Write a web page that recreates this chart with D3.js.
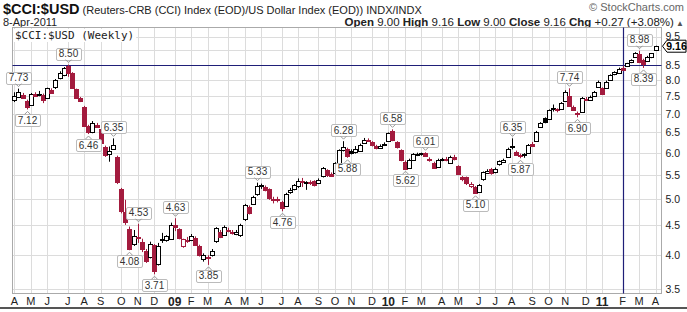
<!DOCTYPE html>
<html>
<head>
<meta charset="utf-8">
<script src="https://cdn.jsdelivr.net/npm/d3@7"></script>
<style>
  body { margin: 0; background: #fff; }
  svg { display: block; font-family: "Liberation Sans", Arial, sans-serif; }
</style>
</head>
<body>
<svg id="chart" width="687" height="312"></svg>
<script>
// weekly bars, each dated by the Monday of its week
var firstWeek = new Date(2008, 3, 7)

var opens = [
  7.38,7.48,7.55,7.37,7.25,7.58,7.54,7.55,7.45,7.70,
  7.79,8.08,8.16,8.45,8.23,7.71,7.45,7.20,6.66,6.50,
  6.70,6.58,6.13,5.97,6.10,5.90,5.20,4.74,4.44,4.18,
  4.30,4.21,4.07,3.97,4.16,3.86,4.24,4.25,4.27,4.50,
  4.43,4.14,4.24,4.25,4.28,4.15,3.93,3.97,4.00,4.22,
  4.39,4.34,4.42,4.38,4.35,4.33,4.61,4.85,4.90,5.08,
  5.28,5.24,5.19,4.98,4.99,4.94,4.86,5.14,5.19,5.25,
  5.36,5.32,5.34,5.36,5.33,5.46,5.60,5.52,5.52,5.75,
  6.06,6.10,6.04,6.02,6.04,6.24,6.30,6.26,6.16,6.13,
  6.20,6.28,6.53,6.25,6.06,5.79,5.64,5.84,5.97,5.99,
  6.00,5.86,5.77,5.68,5.84,5.85,5.77,5.90,5.69,5.44,
  5.44,5.25,5.24,5.14,5.39,5.55,5.62,5.55,5.73,5.80,
  5.91,6.14,6.02,5.95,5.93,5.99,6.22,6.28,6.64,6.88,
  6.85,7.12,7.12,7.15,7.37,7.52,7.20,7.01,7.05,7.42,
  7.40,7.51,7.79,7.74,7.77,8.00,8.18,8.24,8.40,8.45,
  8.58,8.77,8.87,8.66,8.64,8.75,9.00
]
var highs = [
  7.62,7.73,7.60,7.40,7.60,7.62,7.66,7.58,7.76,7.74,
  8.03,8.28,8.42,8.50,8.25,7.73,7.48,7.22,6.70,6.80,
  6.75,6.62,6.17,6.15,6.35,5.93,5.22,4.98,4.48,4.42,
  4.53,4.27,4.10,4.22,4.18,4.20,4.37,4.33,4.55,4.63,
  4.45,4.27,4.30,4.35,4.31,4.17,4.03,4.00,4.10,4.47,
  4.42,4.50,4.46,4.42,4.42,4.53,4.90,4.87,5.06,5.33,
  5.31,5.27,5.21,5.04,5.04,4.96,5.12,5.22,5.30,5.42,
  5.43,5.36,5.38,5.38,5.42,5.67,5.62,5.55,5.78,6.08,
  6.28,6.12,6.08,6.16,6.22,6.36,6.35,6.28,6.19,6.20,
  6.25,6.50,6.58,6.28,6.08,5.82,5.86,5.99,6.00,6.00,
  6.01,5.89,5.79,5.86,5.88,5.90,5.93,5.95,5.71,5.47,
  5.46,5.34,5.26,5.30,5.57,5.62,5.65,5.66,5.82,5.86,
  6.12,6.35,6.05,5.98,5.99,6.21,6.26,6.54,6.77,6.90,
  7.12,7.26,7.15,7.33,7.68,7.74,7.23,7.06,7.48,7.48,
  7.52,7.66,7.98,7.77,7.98,8.18,8.28,8.40,8.46,8.56,
  8.68,8.93,8.98,8.70,8.80,8.90,9.16
]
var lows = [
  7.33,7.45,7.42,7.12,7.22,7.48,7.50,7.30,7.42,7.58,
  7.72,8.02,8.12,8.10,7.74,7.42,7.33,6.66,6.46,6.48,
  6.62,6.20,5.90,5.79,6.08,5.30,4.72,4.51,4.08,4.15,
  4.20,4.05,3.88,3.95,3.71,3.84,4.20,4.22,4.25,4.40,
  4.26,4.12,4.20,4.23,4.15,3.98,3.90,3.85,3.98,4.20,
  4.28,4.32,4.38,4.34,4.33,4.30,4.58,4.70,4.88,5.06,
  5.20,5.15,4.98,4.91,4.93,4.76,4.84,5.10,5.17,5.22,
  5.24,5.18,5.28,5.25,5.30,5.44,5.45,5.45,5.50,5.72,
  6.03,5.88,5.96,5.98,6.02,6.22,6.26,6.15,6.08,6.10,
  6.16,6.26,6.28,6.10,5.80,5.62,5.63,5.82,5.92,5.93,
  5.92,5.79,5.63,5.66,5.80,5.80,5.75,5.82,5.49,5.36,
  5.28,5.22,5.10,5.12,5.37,5.52,5.50,5.53,5.70,5.77,
  5.89,6.08,5.93,5.87,5.88,5.97,6.15,6.26,6.62,6.74,
  6.83,7.06,7.04,7.12,7.35,7.20,7.08,6.90,7.02,7.38,
  7.38,7.49,7.77,7.55,7.75,7.98,8.15,8.22,8.32,8.42,
  8.55,8.75,8.55,8.39,8.60,8.72,9.00
]
var closes = [
  7.50,7.62,7.45,7.20,7.57,7.52,7.58,7.40,7.74,7.62,
  8.00,8.23,8.38,8.21,7.77,7.44,7.36,6.69,6.50,6.74,
  6.66,6.23,5.95,6.05,6.19,5.34,4.76,4.56,4.11,4.31,
  4.28,4.09,3.91,4.18,3.76,4.15,4.26,4.31,4.51,4.46,
  4.28,4.26,4.25,4.31,4.17,4.00,4.00,3.96,4.07,4.45,
  4.31,4.48,4.40,4.37,4.39,4.51,4.87,4.73,5.04,5.25,
  5.25,5.18,5.01,4.99,4.97,4.82,5.10,5.18,5.28,5.36,
  5.34,5.34,5.32,5.28,5.39,5.64,5.48,5.47,5.75,6.06,
  6.14,5.93,6.00,6.10,6.18,6.32,6.31,6.18,6.12,6.17,
  6.22,6.48,6.31,6.13,5.83,5.63,5.83,5.97,5.98,5.99,
  5.94,5.83,5.65,5.83,5.85,5.84,5.91,5.86,5.52,5.39,
  5.32,5.30,5.12,5.28,5.55,5.59,5.53,5.62,5.80,5.84,
  6.10,6.16,5.95,5.93,5.96,6.18,6.16,6.52,6.74,6.76,
  7.10,7.15,7.08,7.31,7.64,7.22,7.12,6.98,7.44,7.43,
  7.49,7.64,7.95,7.57,7.95,8.16,8.24,8.37,8.35,8.54,
  8.66,8.91,8.58,8.52,8.77,8.89,9.16
]

var yTicks = [3.5, 4.0, 4.5, 5.0, 5.5, 6.0, 6.5, 7.0, 7.5, 8.0, 8.5, 9.0, 9.5]

// annotated highs / lows
var noteBars   = [1, 3, 13, 18, 24, 28, 30, 34, 39, 47, 59, 65, 80, 81, 92, 95, 100, 112, 121, 123, 135, 137, 152, 153]
var noteValues = [7.73, 7.12, 8.50, 6.46, 6.35, 4.08, 4.53, 3.71, 4.63, 3.85, 5.33, 4.76, 6.28, 5.88, 6.58, 5.62, 6.01, 5.10, 6.35, 5.87, 7.74, 6.90, 8.98, 8.39]
var noteSides  = ['up','down','up','down','up','down','up','down','up','down','up','down','up','down','up','down','up','down','up','down','up','down','up','down']

var hLineValue = 8.5   // drawn horizontal line
var vLineBar = 148     // drawn vertical line
var lastValue = 9.16

var title = '$CCI:$USD'
var subtitle = ' (Reuters-CRB (CCI) Index (EOD)/US Dollar Index (EOD)) INDX/INDX'
var dateText = '8-Apr-2011'
var quote = [['Open', '9.00'], ['High', '9.16'], ['Low', '9.00'], ['Close', '9.16'], ['Chg', '+0.27 (+3.08%)']]

var red = '#a31b3e'
var navy = '#1f1f78'
var grid = '#dcdcdc'

var plot = { left: 12.5, top: 27.5, right: 661.5, bottom: 293.5 }
var step = 4.11

var svg = d3.select('#chart')

var weeks = opens.map(function(o, i) { return d3.timeMonday.offset(firstWeek, i) })
var bars = weeks.map(function(d, i) {
  return { date: d, o: opens[i], h: highs[i], l: lows[i], c: closes[i], prev: i ? closes[i - 1] : opens[i] }
})

var x = d3.scaleBand().domain(weeks).range([plot.left - 0.2, plot.left - 0.2 + step * weeks.length])
var cx = function(d) { return Math.round(x(d) + x.bandwidth() / 2) + 0.5 }
var y = d3.scaleLog().domain([3.5, 9.5]).range([289, 36.5])

var monthStarts = weeks.filter(function(d, i) { return i == 0 || d.getMonth() != weeks[i - 1].getMonth() })

// header
var t1 = svg.append('text').attr('x', 3).attr('y', 13.5).attr('fill', '#222')
t1.append('tspan').attr('font-size', 14.5).attr('font-weight', 'bold').attr('fill', '#111').text(title)
t1.append('tspan').attr('font-size', 11).text(subtitle)

svg.append('text').attr('x', 684).attr('y', 11).attr('text-anchor', 'end')
  .attr('font-size', 11).attr('fill', '#666').text('\u00a9 StockCharts.com')

svg.append('text').attr('x', 3).attr('y', 26).attr('font-size', 11).attr('fill', '#222').text(dateText)

var q = svg.append('text').attr('x', 684).attr('y', 26).attr('text-anchor', 'end').attr('font-size', 11.5).attr('fill', '#222')
quote.forEach(function(p, i) {
  q.append('tspan').attr('font-weight', 'bold').text((i ? '  ' : '') + p[0] + ' ')
  q.append('tspan').text(p[1])
})
q.append('tspan').attr('font-size', 8).attr('fill', '#555').text(' \u25b2')

// grid
var g = svg.append('g')
g.selectAll('line.hg').data(yTicks).enter().append('line')
  .attr('class', 'hg')
  .attr('x1', plot.left).attr('x2', plot.right)
  .attr('y1', function(d) { return Math.round(y(d)) + 0.5 })
  .attr('y2', function(d) { return Math.round(y(d)) + 0.5 })
  .attr('stroke', grid)
g.selectAll('line.vg').data(monthStarts).enter().append('line')
  .attr('class', 'vg')
  .attr('x1', cx).attr('x2', cx)
  .attr('y1', plot.top).attr('y2', plot.bottom)
  .attr('stroke', grid)

svg.append('rect')
  .attr('x', plot.left).attr('y', plot.top)
  .attr('width', plot.right - plot.left).attr('height', plot.bottom - plot.top)
  .attr('fill', 'none').attr('stroke', '#aaa')

// series name inside plot
var nameText = svg.append('text').attr('x', 15).attr('y', 39)
  .attr('font-family', '"DejaVu Sans Mono", monospace').attr('font-size', 11).attr('fill', '#222')
  .text(title + ' (Weekly)')
var nb = nameText.node().getBBox()
svg.insert('rect', 'text:last-of-type')
  .attr('x', nb.x - 2).attr('y', nb.y).attr('width', nb.width + 4).attr('height', nb.height)
  .attr('fill', '#fff')

// drawn lines
svg.append('line')
  .attr('x1', plot.left).attr('x2', plot.right)
  .attr('y1', Math.round(y(hLineValue)) + 0.5).attr('y2', Math.round(y(hLineValue)) + 0.5)
  .attr('stroke', navy).attr('stroke-width', 1.2)
svg.append('line')
  .attr('x1', cx(weeks[vLineBar])).attr('x2', cx(weeks[vLineBar]))
  .attr('y1', plot.top).attr('y2', plot.bottom)
  .attr('stroke', navy).attr('stroke-width', 1.2)

// candles
var colorOf = function(d) { return d.c < d.prev ? red : '#000' }
var candle = svg.append('g').selectAll('g').data(bars).enter().append('g')
candle.append('line')
  .attr('x1', function(d) { return cx(d.date) }).attr('x2', function(d) { return cx(d.date) })
  .attr('y1', function(d) { return y(d.h) }).attr('y2', function(d) { return y(d.l) })
  .attr('stroke', colorOf)
candle.append('rect')
  .attr('x', function(d) { return cx(d.date) - 2 })
  .attr('y', function(d) { return Math.round(y(Math.max(d.o, d.c))) + 0.5 })
  .attr('width', 4)
  .attr('height', function(d) { return Math.max(1, Math.round(y(Math.min(d.o, d.c)) - y(Math.max(d.o, d.c)))) })
  .attr('fill', function(d) { return d.c < d.o ? colorOf(d) : '#fff' })
  .attr('stroke', colorOf)

// value notes
var notes = noteBars.map(function(b, i) { return { bar: bars[b], v: noteValues[i], side: noteSides[i] } })
var note = svg.append('g').selectAll('g').data(notes).enter().append('g')
note.each(function(d) {
  var el = d3.select(this)
  var px = cx(d.bar.date)
  var py = y(d.v)
  var t = el.append('text').attr('font-size', 10).attr('fill', '#333').attr('text-anchor', 'middle')
    .text(d.v.toFixed(2))
  var w = t.node().getComputedTextLength() + 6
  var h = 12
  var top = d.side == 'up' ? py - 5 - h : py + 5
  t.attr('x', px).attr('y', top + 9.5)
  el.insert('rect', 'text')
    .attr('x', Math.round(px - w / 2) + 0.5).attr('y', Math.round(top) + 0.5)
    .attr('width', Math.round(w)).attr('height', h)
    .attr('rx', 1.5).attr('fill', '#fff').attr('stroke', '#bbb')
  var ty = d.side == 'up' ? top + h : top
  var tip = d.side == 'up' ? ty + 3 : ty - 3
  el.append('path')
    .attr('d', 'M' + (px - 3) + ',' + ty + 'L' + px + ',' + tip + 'L' + (px + 3) + ',' + ty)
    .attr('fill', 'none').attr('stroke', '#999')
})

// axes (the 9.0 label sits under the last-value marker, so it is not written)
var yAxis = svg.append('g')
  .attr('transform', 'translate(' + plot.right + ',0)')
  .call(d3.axisRight(y).tickValues(yTicks).tickSize(0).tickPadding(4)
    .tickFormat(function(d) { return Math.abs(y(d) - y(lastValue)) < 8 ? '' : d3.format('.1f')(d) }))
yAxis.select('.domain').remove()
yAxis.selectAll('text').attr('font-size', 10.5).attr('font-family', '"Liberation Sans", Arial, sans-serif').attr('fill', '#222')

var monthFmt = function(d) { return d.getMonth() == 0 ? d3.timeFormat('%y')(d) : d3.timeFormat('%b')(d).charAt(0) }
var xAxis = svg.append('g')
  .attr('transform', 'translate(0,' + plot.bottom + ')')
  .call(d3.axisBottom(x).tickValues(monthStarts).tickFormat(monthFmt).tickSize(0).tickPadding(4))
xAxis.select('.domain').remove()
xAxis.selectAll('text')
  .attr('font-family', '"Liberation Sans", Arial, sans-serif').attr('fill', '#222')
  .attr('font-weight', function(d) { return d.getMonth() == 0 ? 'bold' : null })
  .attr('font-size', function(d) { return d.getMonth() == 0 ? 12 : 11 })

// last value marker
var ly = y(lastValue) + 0.5
var lastG = svg.append('g')
lastG.append('path')
  .attr('d', 'M' + (plot.right + 1) + ',' + ly + 'L667,' + (ly - 6) + 'L686,' + (ly - 6) + 'L686,' + (ly + 6) + 'L667,' + (ly + 6) + 'Z')
  .attr('fill', '#fff').attr('stroke', '#000')
lastG.append('text').attr('x', 676.5).attr('y', ly + 3.7).attr('text-anchor', 'middle')
  .attr('font-size', 10.5).attr('font-weight', 'bold').text(lastValue.toFixed(2))

// bottom rule
svg.append('rect').attr('x', 0).attr('y', 307).attr('width', 687).attr('height', 2).attr('fill', '#555')
</script>
</body>
</html>
